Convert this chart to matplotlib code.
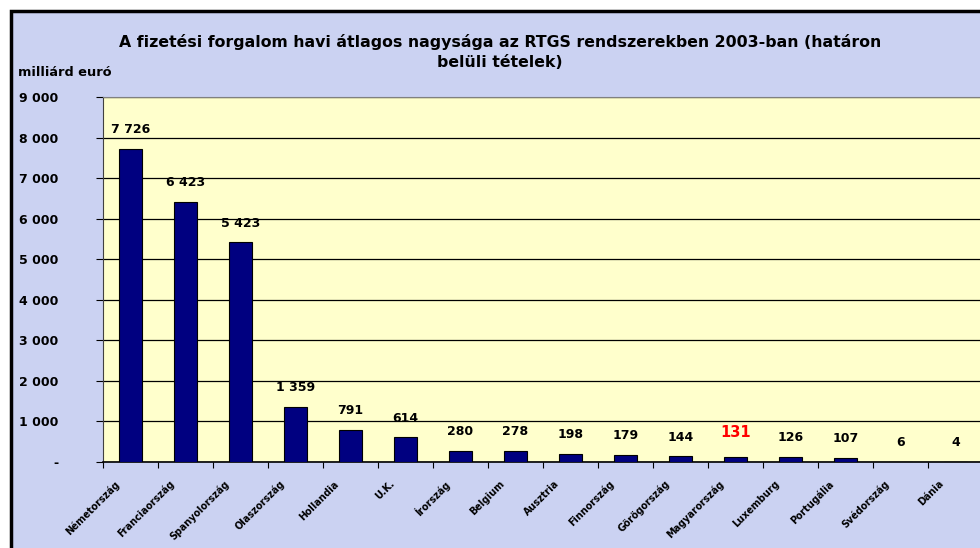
import matplotlib
matplotlib.use("Agg")
import matplotlib.pyplot as plt
from matplotlib.patches import Rectangle
from matplotlib.ticker import FuncFormatter
import numpy as np

plt.rcParams['font.family'] = ['DejaVu Sans']
plt.rcParams['font.weight'] = 'bold'

# data
countries = ['Németország', 'Franciaország', 'Spanyolország', 'Olaszország',
             'Hollandia', 'U.K.', 'Írország', 'Belgium', 'Ausztria',
             'Finnország', 'Görögország', 'Magyarország', 'Luxemburg',
             'Portugália', 'Svédország', 'Dánia']
values = [7726, 6423, 5423, 1359, 791, 614, 280, 278, 198, 179, 144, 131,
          126, 107, 6, 4]
highlight = 'Magyarország'

title = ('A fizetési forgalom havi átlagos nagysága az RTGS rendszerekben '
         '2003-ban (határon\nbelüli tételek)')
unit = 'milliárd euró'

W, H = 980, 548
fig = plt.figure(figsize=(W / 100, H / 100), dpi=100)
fig.patch.set_facecolor('white')

# chart area background + outer frame (right/bottom run off the image)
fig.patches.append(Rectangle((11 / W, -0.1), 1.1, 1.1 - 11 / H,
                             transform=fig.transFigure, facecolor='#cbd2f2',
                             edgecolor='black', linewidth=2.5, zorder=-10))

ax = fig.add_axes([103 / W, (H - 462) / H, 880 / W, 365 / H])
ax.set_facecolor('#ffffcc')

x = np.arange(len(countries))
ax.bar(x, values, width=0.42, color='#000080', edgecolor='black',
       linewidth=0.8, zorder=3)

ax.set_xlim(-0.5, len(countries) - 0.5)
ax.set_ylim(0, 9000)
ax.set_yticks(np.arange(0, 9001, 1000))
ax.yaxis.set_major_formatter(FuncFormatter(
    lambda v, p: '-' if v == 0 else f'{int(v):,}'.replace(',', ' ')))
ax.grid(axis='y', color='black', linewidth=0.9, zorder=1)

# category boundary ticks (major) and slanted names (minor, nudged left)
ax.set_xticks(np.arange(len(countries) + 1) - 0.5, minor=False)
ax.set_xticklabels([])
ax.set_xticks(x - 0.3, minor=True)
ax.set_xticklabels(countries, minor=True, rotation=45, ha='right',
                   rotation_mode='anchor', fontsize=6.9, fontweight='bold')
ax.tick_params(axis='x', which='minor', length=0, pad=12)
ax.tick_params(axis='x', which='major', length=4, direction='out')
ax.tick_params(axis='y', length=5, direction='out', pad=27, labelsize=9)
for lab in ax.get_yticklabels():
    lab.set_fontweight('bold')

for side in ['top', 'right']:
    ax.spines[side].set_color('#808080')
ax.spines['left'].set_color('#404040')
ax.spines['bottom'].set_color('black')
ax.spines['bottom'].set_linewidth(1.2)

for xi, v, c in zip(x, values, countries):
    txt = f'{v:,}'.replace(',', ' ')
    if c == highlight:
        ax.annotate(txt, (xi, v), xytext=(0, 12), textcoords='offset points',
                    ha='center', va='bottom', color='red', fontsize=10.5,
                    fontweight='bold', zorder=5)
    else:
        ax.annotate(txt, (xi, v), xytext=(0, 9), textcoords='offset points',
                    ha='center', va='bottom', color='black', fontsize=9,
                    fontweight='bold', zorder=5)

fig.text(500 / W, 1 - 52 / H, title, ha='center', va='center',
         fontsize=11.3, fontweight='bold', linespacing=1.4)
fig.text(18 / W, 1 - 73 / H, unit, ha='left', va='center',
         fontsize=9.3, fontweight='bold')

fig.savefig('out.png', dpi=100)
